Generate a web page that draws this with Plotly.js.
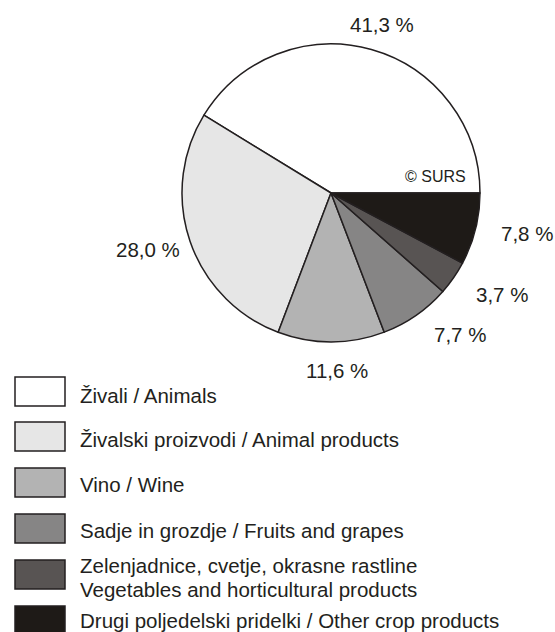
<!DOCTYPE html>
<html>
<head>
<meta charset="utf-8">
<script src="https://cdn.plot.ly/plotly-3.0.1.min.js"></script>
<style>html,body{margin:0;padding:0;background:#fff;}#chart{width:555px;height:632px;}</style>
</head>
<body>
<div id="chart"></div>
<script>
const categories = [
  "Živali / Animals",
  "Živalski proizvodi / Animal products",
  "Vino / Wine",
  "Sadje in grozdje / Fruits and grapes",
  "Zelenjadnice, cvetje, okrasne rastline<br>Vegetables and horticultural products",
  "Drugi poljedelski pridelki / Other crop products"
];
const values = [41.3, 28.0, 11.6, 7.7, 3.7, 7.8];
const valueLabels = ["41,3 %", "28,0 %", "11,6 %", "7,7 %", "3,7 %", "7,8 %"];
const colors = ["#ffffff", "#e6e6e6", "#b3b3b3", "#868585", "#585453", "#1e1a17"];

const W = 555, H = 632;
const cx = 331, cy = 193, R = 149;
// label placement (pixel offsets from pie center), one per slice
const labelPos = [[51, -168], [-183.5, 56.5], [6, 177], [129, 141.5], [170.5, 101], [196, 40.5]];

const fam = "Arial, 'Liberation Sans', sans-serif";
const font = {family: fam, size: 20.5, color: "#231f20"};

const total = values.reduce((a, b) => a + b, 0);

const annotations = [];
const shapes = [];
values.forEach((v, i) => {
  annotations.push({
    xref: "paper", yref: "paper",
    x: (cx + labelPos[i][0]) / W, y: 1 - (cy + labelPos[i][1]) / H,
    xanchor: "center", yanchor: "middle",
    text: valueLabels[i], showarrow: false, font: font
  });
});
annotations.push({
  xref: "paper", yref: "paper", x: 468 / W, y: 1 - 177 / H,
  xanchor: "right", yanchor: "middle", text: "© SURS", showarrow: false,
  font: {family: fam, size: 16, color: "#231f20"}
});

// legend
const boxTop = [377, 422, 468, 514, 560, 606];
const textY = [[395.5], [439.5], [484.5], [530], [565, 589], [620.5]];
categories.forEach((c, i) => {
  const t = boxTop[i];
  shapes.push({
    type: "rect", xref: "paper", yref: "paper",
    x0: 15 / W, x1: 65 / W, y0: 1 - t / H, y1: 1 - (t + 29) / H,
    fillcolor: colors[i], line: {color: "#231f20", width: 1.5}
  });
  const lines = c.split("<br>");
  lines.forEach((ln, j) => {
    annotations.push({
      xref: "paper", yref: "paper", x: 78 / W, y: 1 - textY[i][j] / H,
      xanchor: "left", yanchor: "middle", align: "left",
      text: ln, showarrow: false, font: font
    });
  });
});

const trace = {
  type: "pie",
  values: values,
  labels: categories,
  sort: false,
  direction: "counterclockwise",
  rotation: 90 - 360 * values[0] / total,
  textinfo: "none",
  hoverinfo: "label+percent",
  marker: {colors: colors, line: {color: "#231f20", width: 1.5}},
  domain: {x: [(cx - R) / W, (cx + R) / W], y: [1 - (cy + R) / H, 1 - (cy - R) / H]},
  showlegend: false
};

Plotly.newPlot("chart", [trace], {
  width: W, height: H,
  margin: {l: 0, r: 0, t: 0, b: 0},
  paper_bgcolor: "#ffffff",
  showlegend: false,
  annotations: annotations,
  shapes: shapes
}, {displayModeBar: false, staticPlot: true});
</script>
</body>
</html>
